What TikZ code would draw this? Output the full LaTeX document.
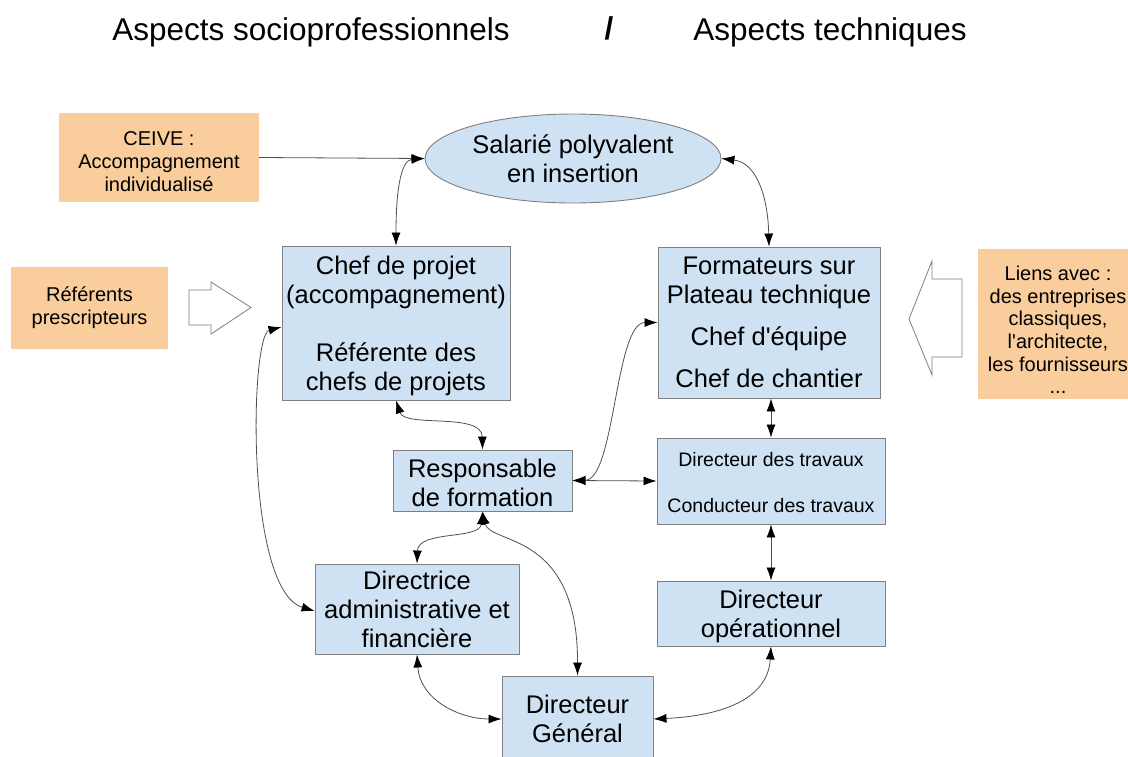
\documentclass[tikz,border=0pt]{standalone}
\usepackage{fontspec}
\setmainfont{Liberation Sans}
\usetikzlibrary{arrows.meta,shapes.geometric}
\definecolor{boxblue}{RGB}{207,226,243}
\definecolor{boxorange}{RGB}{249,205,156}
\definecolor{edgegray}{RGB}{128,128,128}
\definecolor{linegray}{RGB}{80,80,80}
\newcommand{\fs}[2]{\fontsize{#1}{#2}\selectfont}
\newcommand{\sq}{\textquotesingle}
\tikzset{
  bluebox/.style={draw=edgegray, line width=0.9pt, fill=boxblue, inner sep=0pt, align=center, font=\fs{25.5}{29}},
  orangebox/.style={fill=boxorange, inner sep=0pt, align=center, font=\fs{20}{23}},
  plaintext/.style={inner sep=0pt, align=center},
  conn/.style={draw=linegray, line width=0.8pt, {Latex[length=13pt,width=9pt,color=black]}-{Latex[length=13pt,width=9pt,color=black]}},
  conn1/.style={draw=linegray, line width=0.8pt, -{Latex[length=13pt,width=9pt,color=black]}},
  hollow/.style={draw=edgegray, line width=0.8pt, fill=white},
  titletext/.style={inner sep=0pt, font=\fs{31.5}{36}}
}
\begin{document}
\begin{tikzpicture}[x=1pt,y=-1pt]
\useasboundingbox (0,0) rectangle (1128,756);
\clip (0,0) rectangle (1128,756);
\fill[white] (0,0) rectangle (1128,756);

% titles
\node[titletext] (t1) at (311,32) {Aspects socioprofessionnels};
\node[titletext, font=\fs{31.5}{36}\bfseries] (tslash) at (609,28) {/};
\node[titletext] (t2) at (830,32) {Aspects techniques};

% orange boxes
\node[orangebox, minimum width=200, minimum height=89] (ceive) at (159,157.5) {};
\node[plaintext, font=\fs{20}{23}] (ceivetext) at (159,162) {CEIVE :\\Accompagnement\\individualisé};
\node[orangebox, minimum width=157, minimum height=82] (refs) at (89.5,308) {Référents\\prescripteurs};
\node[orangebox, minimum width=162, minimum height=150] (liens) at (1059,324) {};
\node[plaintext, font=\fs{20}{22.6}] (lienstext) at (1058,330) {Liens avec :\\des entreprises\\classiques,\\l\sq architecte,\\les fournisseurs\\...};

% hollow arrows
\draw[hollow] (189,290) -- (211,290) -- (211,282) -- (251,307.5) -- (211,334) -- (211,325) -- (189,325) -- cycle;
\draw[hollow] (962,279) -- (932,279) -- (932,261) -- (909,319) -- (932,375) -- (932,357) -- (962,357) -- cycle;

% blue nodes
\node[bluebox, ellipse, minimum width=296, minimum height=89] (sal) at (573,158.5) {Salarié polyvalent\\en insertion};
\node[bluebox, minimum width=228, minimum height=154] (cp) at (396,323) {};
\node[plaintext, font=\fs{25.5}{29}] (cptext) at (396,326) {Chef de projet\\(accompagnement)\\[29pt]Référente des\\chefs de projets};
\node[bluebox, minimum width=222, minimum height=151] (form) at (769,322.5) {Formateurs sur\\Plateau technique\\[13pt]Chef d\sq équipe\\[13pt]Chef de chantier};
\node[bluebox, minimum width=179, minimum height=61] (rf) at (482.5,480.5) {};
\node[plaintext, font=\fs{25.5}{29}] (rftext) at (482.5,482.5) {Responsable\\de formation};
\node[bluebox, minimum width=228, minimum height=86] (dt) at (771,481) {};
\node[plaintext, font=\fs{19.5}{23}] (dttext) at (771,483) {Directeur des travaux\\[23pt]Conducteur des travaux};
\node[bluebox, minimum width=204, minimum height=90] (dir) at (417,609) {Directrice\\administrative et\\financière};
\node[bluebox, minimum width=228, minimum height=65] (do) at (771,613.5) {};
\node[plaintext, font=\fs{25.5}{29}] (dotext) at (771,616.5) {Directeur\\opérationnel};
\node[bluebox, minimum width=151, minimum height=86] (dg) at (577.5,719) {Directeur\\Général};

% connectors
\draw[conn1] (ceive.east) -- (sal.west);
\draw[conn] (cp.north) .. controls (396,185) and (402,160) .. (sal.west);
\draw[conn] (sal.east) .. controls (758,163) and (768,200) .. (form.north);
\draw[conn] (dt.north |- form.south) -- (dt.north);
\draw[conn] (dt.south) -- (do.north);
\draw[conn] (rf.east) -- (dt.west);
\draw[conn] (rf.east) .. controls (615,480) and (615,322.5) .. (form.west);
\draw[conn] (cp.south) .. controls (405,428) and (482,412) .. (rf.north);
\draw[conn] (rf.south) .. controls (480,540) and (418,530) .. (dir.north);
\draw[conn] (rf.south) .. controls (490,545) and (578,530) .. (dg.north);
\draw[conn] ([yshift=-4pt]cp.west) .. controls (250,335) and (245,590) .. ([yshift=-2pt]dir.west);
\draw[conn] (dir.south) .. controls (420,700) and (460,719) .. (dg.west);
\draw[conn] (dg.east) .. controls (720,716) and (768,700) .. (do.south);
\end{tikzpicture}
\end{document}
